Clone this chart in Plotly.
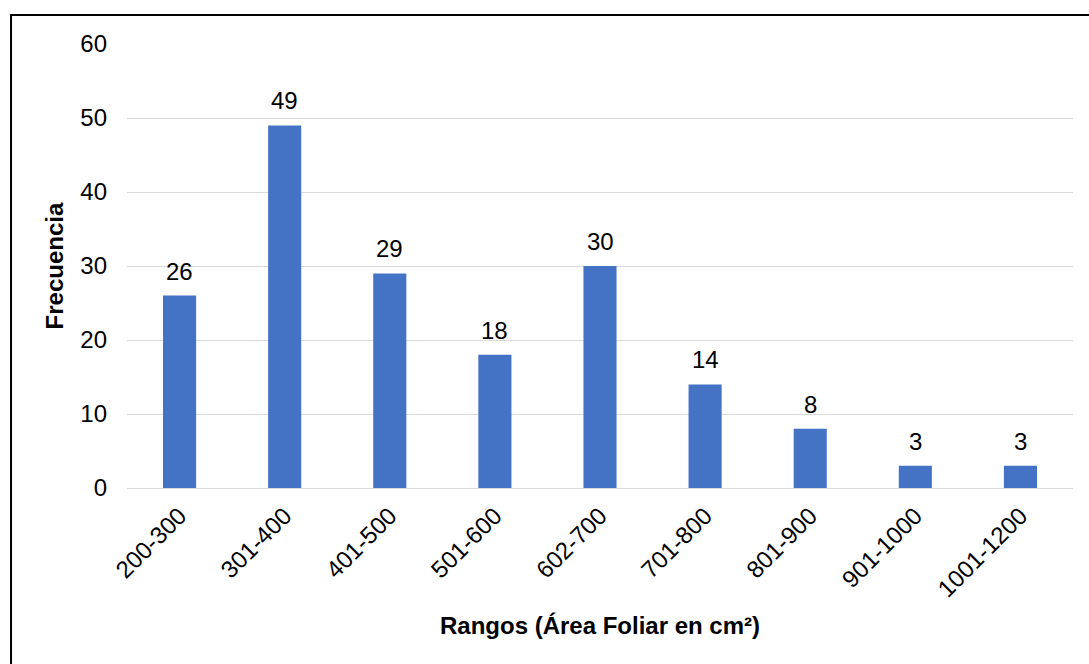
import plotly.graph_objects as go

# Frequency of leaf-area ranges
rangos = ["200-300", "301-400", "401-500", "501-600", "602-700",
          "701-800", "801-900", "901-1000", "1001-1200"]
frecuencia = [26, 49, 29, 18, 30, 14, 8, 3, 3]
y_ticks = [0, 10, 20, 30, 40, 50, 60]

FONT = "Liberation Sans, Arial, sans-serif"
SIZE = 24

fig = go.Figure(
    go.Bar(
        x=rangos,
        y=frecuencia,
        width=0.315,
        marker=dict(color="#4472C4", line=dict(width=0)),
        hoverinfo="x+y",
    )
)

# Value labels above each bar
for cat, val in zip(rangos, frecuencia):
    fig.add_annotation(
        x=cat, y=val, text=str(val),
        showarrow=False, yanchor="bottom", yshift=9,
        font=dict(family=FONT, size=SIZE, color="#000000"),
    )

fig.update_layout(
    width=1089,
    height=664,
    margin=dict(l=127, r=16, t=44, b=176),
    paper_bgcolor="white",
    plot_bgcolor="white",
    showlegend=False,
    font=dict(family=FONT, color="#000000"),
)

fig.update_xaxes(
    tickangle=-45,
    tickfont=dict(family=FONT, size=SIZE, color="#000000"),
    showgrid=False,
    showline=False,
    ticks="",
    ticklabelstandoff=8,
    title=dict(
        text="<b>Rangos (Área Foliar en cm²)</b>",
        font=dict(family=FONT, size=SIZE, color="#000000"),
        standoff=16,
    ),
)

fig.update_yaxes(
    range=[0, 60],
    tickvals=y_ticks,
    tickfont=dict(family=FONT, size=SIZE, color="#000000"),
    showgrid=True,
    gridcolor="#d9d9d9",
    gridwidth=1.3,
    zeroline=True,
    zerolinecolor="#d9d9d9",
    zerolinewidth=1.3,
    showline=False,
    ticks="",
    ticklabelstandoff=19,
    title=dict(
        text="<b>Frecuencia</b>",
        font=dict(family=FONT, size=SIZE, color="#000000"),
        standoff=9,
    ),
)

# Chart frame (left and top edges visible)
fig.add_shape(
    type="rect",
    xref="paper", yref="paper",
    x0=-0.1226, x1=1.2, y0=-0.6, y1=1.0653,
    line=dict(color="#000000", width=2),
    fillcolor="rgba(0,0,0,0)",
    layer="below",
)

fig.write_html("out.html")
